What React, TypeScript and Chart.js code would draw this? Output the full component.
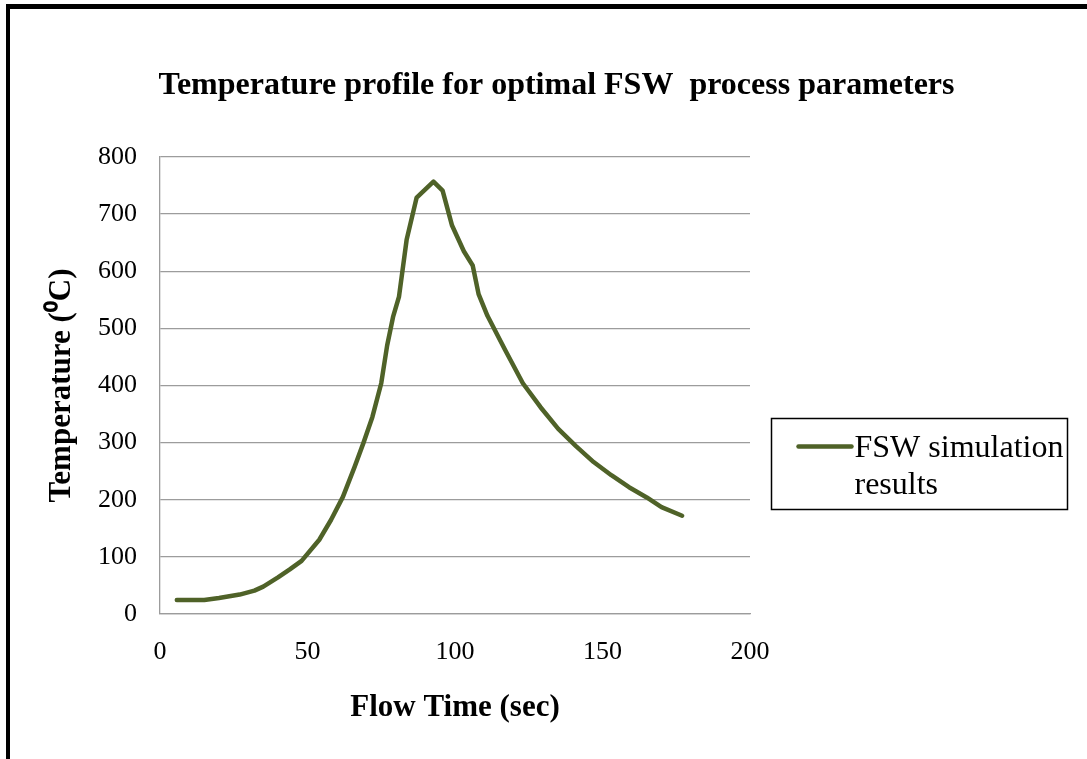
import React, { useEffect, useRef } from "react";
import { Chart, registerables } from "chart.js";

Chart.register(...registerables);

// ---- data ----
const flowTime = [5.7, 10, 15, 20, 27, 32, 35, 40, 44, 48, 54, 58, 62, 66, 69, 72, 75, 77, 79, 81, 83.6, 87, 92.7, 95.8, 99, 103, 106, 108, 111, 117, 123, 129, 135, 141, 147, 153, 159, 165, 170, 177];
const temperature = [24.5, 24.5, 24.5, 28, 34, 41, 48, 64, 78, 93, 130, 165, 205, 258, 300, 345, 404, 470, 520, 555, 655, 729, 757, 741, 680, 635, 610, 560, 522, 462, 404, 362, 324, 294, 266, 243, 222, 204, 187, 172];

const seriesLabel = "FSW simulation results";
const chartTitle = "Temperature profile for optimal FSW  process parameters";
const xAxisTitle = "Flow Time (sec)";
const yAxisTitle = "Temperature (\u2070C)";
const xRange = [0, 200];
const xStep = 50;
const yRange = [0, 800];
const yStep = 100;

const SERIF = '"Liberation Serif", "Times New Roman", serif';
const LINE_COLOR = "#4f6228";
const GRID_COLOR = "#9c9c9c";

const boxLegend = {
  id: "boxLegend",
  afterDraw(chart: any) {
    const ds = chart.data.datasets[0];
    const ctx = chart.ctx as CanvasRenderingContext2D;
    const area = chart.chartArea;
    const bx = area.right + 21.5;
    const by = 418.5;
    const bw = 296;
    const bh = 91;
    ctx.save();
    ctx.strokeStyle = "#000";
    ctx.lineWidth = 1.5;
    ctx.strokeRect(bx, by, bw, bh);

    ctx.font = `32px ${SERIF}`;
    const words = String(ds.label).split(" ");
    const maxW = 215;
    const lines: string[] = [];
    let cur = "";
    for (const w of words) {
      const test = cur ? cur + " " + w : w;
      if (ctx.measureText(test).width > maxW && cur) {
        lines.push(cur);
        cur = w;
      } else cur = test;
    }
    if (cur) lines.push(cur);

    const firstY = by + 28;
    ctx.strokeStyle = ds.borderColor;
    ctx.lineWidth = 4.5;
    ctx.lineCap = "round";
    ctx.beginPath();
    ctx.moveTo(bx + 27, firstY);
    ctx.lineTo(bx + 80, firstY);
    ctx.stroke();

    ctx.fillStyle = "#000";
    ctx.textBaseline = "middle";
    ctx.textAlign = "left";
    lines.forEach((l, i) => ctx.fillText(l, bx + 83, firstY + 2 + i * 37));
    ctx.restore();
  },
};

export default function App() {
  const ref = useRef<HTMLCanvasElement | null>(null);

  useEffect(() => {
    if (!ref.current) return;
    const points = flowTime.map((x, i) => ({ x, y: temperature[i] }));
    const chart = new Chart(ref.current, {
      type: "line",
      data: {
        datasets: [
          {
            label: seriesLabel,
            data: points,
            borderColor: LINE_COLOR,
            backgroundColor: LINE_COLOR,
            borderWidth: 4.5,
            borderJoinStyle: "round",
            borderCapStyle: "round",
            pointRadius: 0,
            tension: 0,
            fill: false,
          },
        ],
      },
      options: {
        responsive: false,
        animation: false,
        layout: { padding: { left: 26, top: 0, right: 0, bottom: 0 } },
        plugins: {
          legend: { display: false },
          tooltip: { enabled: false },
          title: {
            display: true,
            text: chartTitle,
            color: "#000",
            font: { family: SERIF, size: 32, weight: "bold", lineHeight: 1.2 },
            padding: { top: 67, bottom: 51.6 },
          },
        },
        scales: {
          x: {
            type: "linear",
            min: xRange[0],
            max: xRange[1],
            grid: { display: false, drawTicks: false },
            border: { display: true, color: GRID_COLOR, width: 1.3 },
            ticks: {
              stepSize: xStep,
              color: "#000",
              padding: 23,
              font: { family: SERIF, size: 26 },
            },
            title: {
              display: true,
              text: xAxisTitle,
              color: "#000",
              font: { family: SERIF, size: 31, weight: "bold", lineHeight: 1.2 },
              padding: { top: 0, bottom: 32 },
            },
            afterFit(s: any) {
              s.height = 145;
            },
          },
          y: {
            type: "linear",
            min: yRange[0],
            max: yRange[1],
            grid: { display: true, drawTicks: false, color: GRID_COLOR, lineWidth: 1.3 },
            border: { display: true, color: GRID_COLOR, width: 1.3 },
            ticks: {
              stepSize: yStep,
              color: "#000",
              padding: 23,
              font: { family: SERIF, size: 26 },
            },
            title: {
              display: true,
              text: yAxisTitle,
              color: "#000",
              font: { family: SERIF, size: 31, weight: "bold", lineHeight: 1.2 },
              padding: { top: 17, bottom: 0 },
            },
            afterFit(s: any) {
              s.width = 134;
            },
          },
          yRightSpace: {
            type: "linear",
            position: "right",
            min: 0,
            max: 1,
            display: true,
            grid: { display: false, drawTicks: false },
            border: { display: false },
            ticks: { display: false },
            afterFit(s: any) {
              s.width = 337;
            },
          },
        },
      } as any,
      plugins: [boxLegend],
    });
    return () => chart.destroy();
  }, []);

  return (
    <div
      style={{
        position: "absolute",
        left: 0,
        top: 0,
        width: 1087,
        height: 759,
        overflow: "hidden",
        background: "#fff",
      }}
    >
      <canvas ref={ref} width={1087} height={759} style={{ display: "block" }} />
      <div
        style={{
          position: "absolute",
          left: 6,
          top: 4,
          right: 0,
          bottom: 0,
          borderLeft: "4px solid #000",
          borderTop: "5px solid #000",
          pointerEvents: "none",
        }}
      />
    </div>
  );
}
